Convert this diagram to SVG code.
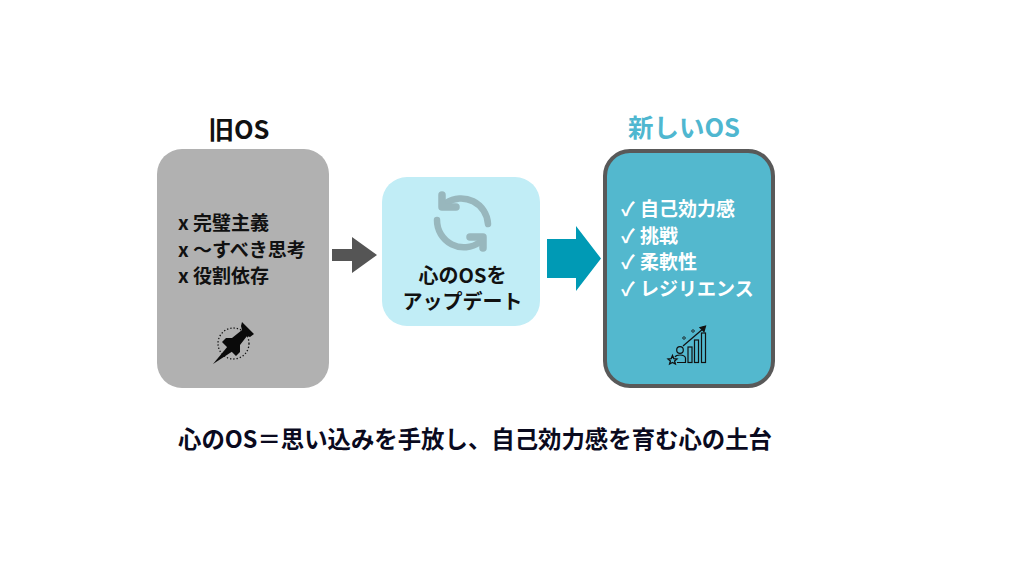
<svg xmlns="http://www.w3.org/2000/svg" width="1024" height="576" viewBox="0 0 1024 576">
<style>
text{font-family:"Noto Sans CJK JP","Noto Sans",sans-serif;font-weight:700}
.t{font-size:25.500px}
.b{font-size:19px;fill:#111}
.w{font-size:19px;fill:#fff}
.m{font-size:20px;fill:#111;text-anchor:middle}
</style>
<rect width="1024" height="576" fill="#fff"/>
<g id="old-os">
<text class="t" x="239" y="138.500" text-anchor="middle" fill="#111">旧OS</text>
<rect x="157" y="149" width="172" height="239" rx="25" fill="#b1b1b1"/>
<text class="b" x="178" y="230">x 完璧主義</text>
<text class="b" x="178" y="256.500">x ～すべき思考</text>
<text class="b" x="178" y="283">x 役割依存</text>
<g id="pin-icon">
<circle cx="233.500" cy="343.500" r="15.500" fill="none" stroke="#111" stroke-width="1.300" stroke-dasharray="1.300 2"/>
<path d="M242 322L254 334L250 337L247 336L240 345L240 352L236 356L222 342L226 338L232 338L242 330L241 326Z" fill="#0a0a0a"/>
<path d="M228 346L213 364L233 351Z" fill="#0a0a0a"/>
</g>
</g>
<g id="update">
<rect x="382" y="177" width="158" height="149" rx="25" fill="#c1edf6"/>
<g id="sync-icon" fill="none" stroke="#98b7bd" stroke-width="6.500" stroke-linecap="round">
<path d="M446 203A27 27 0 0 1 488 224"/>
<path d="M437 220A27 27 0 0 0 480 242"/>
<path d="M442 195V207H456" stroke-linejoin="round" stroke-width="7.500"/>
<path d="M483 248V237H470" stroke-linejoin="round" stroke-width="7.500"/>
</g>
<text class="m" x="462.500" y="283">心のOSを</text>
<text class="m" x="462.500" y="309">アップデート</text>
</g>
<g id="new-os">
<text class="t" x="684" y="136.500" text-anchor="middle" fill="#4fb7d0">新しいOS</text>
<rect x="605" y="151" width="168" height="235" rx="25" fill="#53b8ce" stroke="#595959" stroke-width="4"/>
<text class="w" x="621" y="215.500" word-spacing="1">✓ 自己効力感</text>
<text class="w" x="621" y="242.500" word-spacing="1">✓ 挑戦</text>
<text class="w" x="621" y="269" word-spacing="1">✓ 柔軟性</text>
<text class="w" x="621" y="295.500" word-spacing="1">✓ レジリエンス</text>
<g id="growth-icon" fill="none" stroke="#111" stroke-width="1.200">
<rect x="688" y="347" width="4" height="15.500"/>
<rect x="694.500" y="340" width="4" height="22.500"/>
<rect x="701.500" y="333" width="4" height="29.500"/>
<path d="M683 346L704 328"/>
<path d="M700 327.500L705.500 326L704 331.500Z" fill="#111"/>
<circle cx="680" cy="350" r="3.300"/>
<path d="M677 362.500H685.500V358Q685 355 680 355Q676 355 675 357"/>
<path d="M672.500 355.500L673.800 358.600L677 359L674.600 361L675.400 364L672.500 362.400L669.600 364L670.400 361L668 359L671.200 358.600Z" stroke-width="1.300"/>
<path d="M684 336.500l1.500 1.500-1.500 1.500-1.500-1.500ZM693 329.500l1.500 1.500-1.500 1.500-1.500-1.500Z" stroke-width="1"/>
</g>
</g>
<g id="connectors">
<path d="M332 249H352V237L377 255L352 273V261H332Z" fill="#555"/>
<path d="M547 239H576V226L601 258.500L576 291V278H547Z" fill="#009ab5"/>
</g>
<g id="caption">
<text x="178" y="447.500" font-size="23.400" fill="#0a0a1e">心のOS＝思い込みを手放し、自己効力感を育む心の土台</text>
</g>
</svg>
